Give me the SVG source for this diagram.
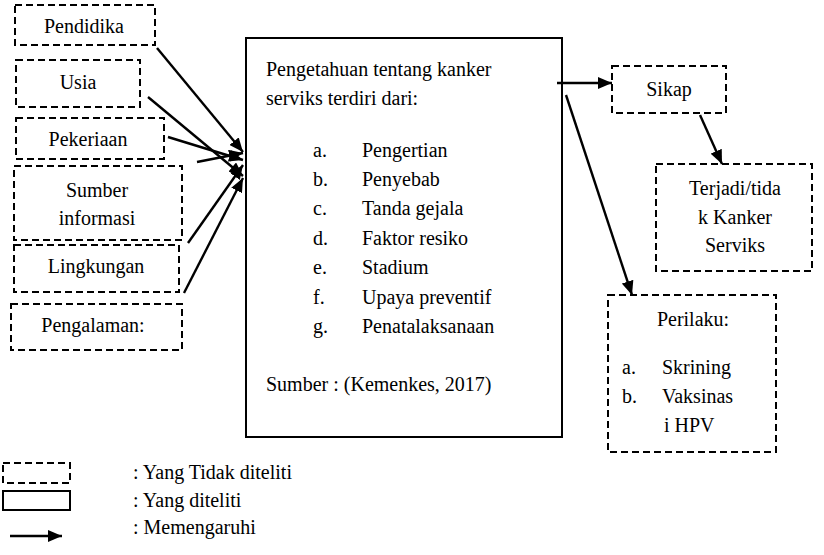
<svg xmlns="http://www.w3.org/2000/svg" width="824" height="555" viewBox="0 0 824 555">
<defs>
<style>
text{font-family:'Liberation Serif',serif;font-size:20px;fill:#000}
.c{text-anchor:middle}
.d{fill:#fff;stroke:#000;stroke-width:2;stroke-dasharray:7,4}
.s{fill:#fff;stroke:#000;stroke-width:2}
.e{stroke:#000;stroke-width:2.4;fill:none;marker-end:url(#ah)}
</style>
<marker id="ah" viewBox="0 0 14 12" refX="14" refY="6" markerWidth="14" markerHeight="12" markerUnits="userSpaceOnUse" orient="auto">
<path d="M0,0 L14,6 L0,12 Z" fill="#000"/>
</marker>
</defs>
<rect width="824" height="555" fill="#fff"/>
<g id="pendidikan"><rect class="d" x="15" y="5" width="140" height="40"/><text class="c" x="84" y="33">Pendidika</text></g>
<g id="usia"><rect class="d" x="16" y="60" width="124" height="47"/><text class="c" x="78" y="89">Usia</text></g>
<g id="pekerjaan"><rect class="d" x="16" y="118" width="148" height="41"/><text class="c" x="88" y="146">Pekeriaan</text></g>
<g id="sumber"><rect class="d" x="14" y="166" width="168" height="74"/><text class="c" x="97" y="197">Sumber</text><text class="c" x="97" y="225">informasi</text></g>
<g id="lingkungan"><rect class="d" x="14" y="245" width="165" height="47"/><text class="c" x="96" y="273">Lingkungan</text></g>
<g id="pengalaman"><rect class="d" x="11" y="304" width="171" height="46"/><text class="c" x="93" y="332">Pengalaman:</text></g>
<g id="pengetahuan"><rect class="s" x="246" y="38" width="316" height="399"/>
<text x="266" y="76">Pengetahuan tentang kanker</text>
<text x="266" y="105">serviks terdiri dari:</text>
<text x="313" y="157">a.</text><text x="362" y="157">Pengertian</text>
<text x="313" y="186">b.</text><text x="362" y="186">Penyebab</text>
<text x="313" y="215">c.</text><text x="362" y="215">Tanda gejala</text>
<text x="313" y="245">d.</text><text x="362" y="245">Faktor resiko</text>
<text x="313" y="274">e.</text><text x="362" y="274">Stadium</text>
<text x="313" y="304">f.</text><text x="362" y="304">Upaya preventif</text>
<text x="313" y="333">g.</text><text x="362" y="333">Penatalaksanaan</text>
<text x="266" y="391">Sumber : (Kemenkes, 2017)</text>
</g>
<g id="sikap"><rect class="d" x="612" y="66" width="114" height="47"/><text class="c" x="669" y="96">Sikap</text></g>
<g id="terjadi"><rect class="d" x="656" y="164" width="156" height="107"/><text class="c" x="735" y="195">Terjadi/tida</text><text class="c" x="735" y="224">k Kanker</text><text class="c" x="735" y="252">Serviks</text></g>
<g id="perilaku"><rect class="d" x="608" y="295" width="168" height="157"/>
<text class="c" x="693" y="326">Perilaku:</text>
<text x="622" y="374">a.</text><text x="662" y="374">Skrining</text>
<text x="622" y="403">b.</text><text x="662" y="403">Vaksinas</text>
<text x="664" y="432">i HPV</text>
</g>
<g id="connectors">
<line class="e" x1="157" y1="48" x2="243" y2="152"/>
<line class="e" x1="148" y1="97" x2="243" y2="176"/>
<line class="e" x1="168" y1="137" x2="243" y2="160"/>
<line class="e" x1="197" y1="162" x2="243" y2="153"/>
<line class="e" x1="188" y1="243" x2="243" y2="165"/>
<line class="e" x1="184" y1="293" x2="243" y2="178"/>
<line class="e" x1="557" y1="83" x2="612" y2="83"/>
<line class="e" x1="566" y1="95" x2="632" y2="295"/>
<line class="e" x1="700" y1="115" x2="722" y2="164"/>
</g>
<g id="legend">
<rect class="d" x="3" y="463" width="67" height="20"/>
<rect class="s" x="3" y="491" width="67" height="19"/>
<line class="e" x1="10" y1="536" x2="62" y2="536"/>
<text x="133" y="479">: Yang Tidak diteliti</text>
<text x="133" y="507">: Yang diteliti</text>
<text x="133" y="534">: Memengaruhi</text>
</g>
</svg>
